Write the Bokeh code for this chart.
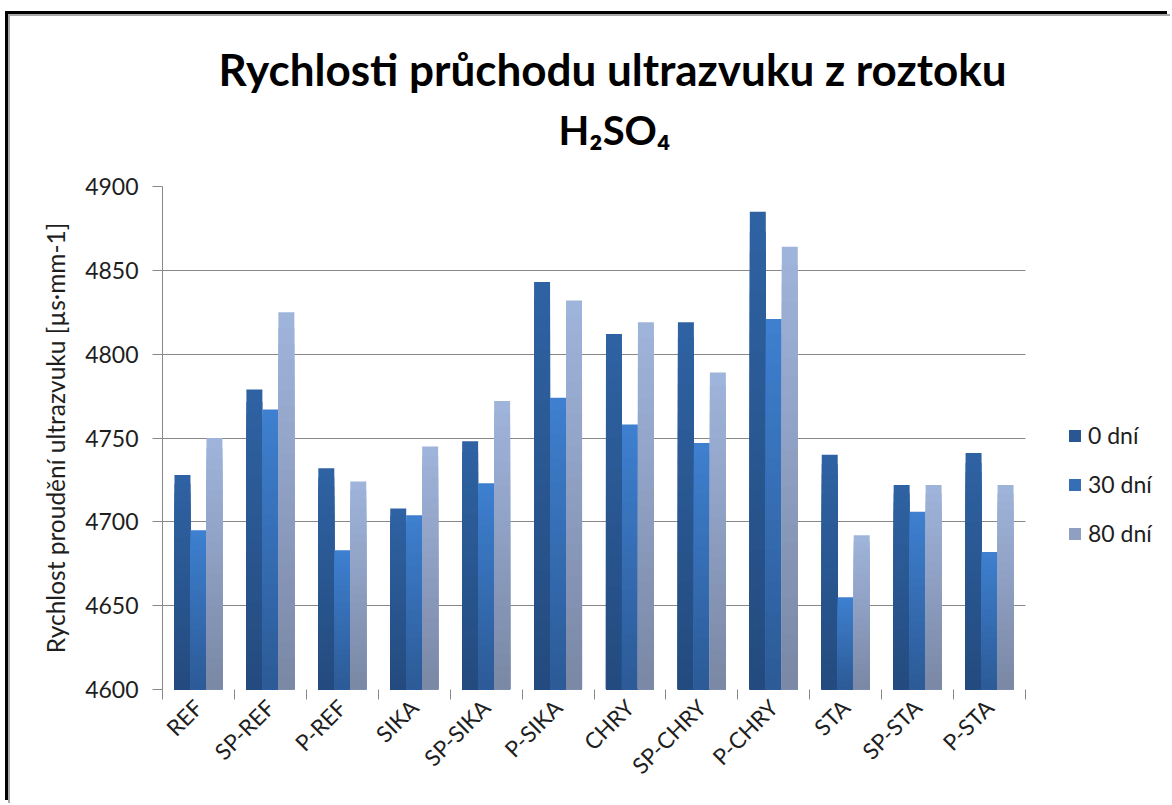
import numpy as np
from bokeh.plotting import figure
from bokeh.models import (ColumnDataSource, Range1d, FixedTicker, Legend,
                          LegendItem, Title)
from bokeh.embed import file_html
from bokeh.resources import INLINE

categories = ["REF", "SP-REF", "P-REF", "SIKA", "SP-SIKA", "P-SIKA",
              "CHRY", "SP-CHRY", "P-CHRY", "STA", "SP-STA", "P-STA"]
series_names = ["0 dní", "30 dní", "80 dní"]
v0 = [4728, 4779, 4732, 4708, 4748, 4843, 4812, 4819, 4885, 4740, 4722, 4741]
v30 = [4695, 4767, 4683, 4704, 4723, 4774, 4758, 4747, 4821, 4655, 4706, 4682]
v80 = [4750, 4825, 4724, 4745, 4772, 4832, 4819, 4789, 4864, 4692, 4722, 4722]
y_ticks = [4600, 4650, 4700, 4750, 4800, 4850, 4900]
title_line1 = "Rychlosti průchodu ultrazvuku z roztoku"
title_line2 = "H₂SO₄"
y_label = "Rychlost proudění ultrazvuku [µs·mm-1]"

top_colors = [(47, 99, 163), (62, 128, 208), (160, 181, 220)]
bot_colors = [(35, 74, 126), (44, 90, 150), (122, 135, 165)]
FONT = "Lato"
TXT = "#1e1e1e"
GRID = "#888888"

n_cat = len(categories)
y0, y1 = y_ticks[0], y_ticks[-1]
# plot area runs to the right edge so that the legend (an annotation) is not
# clipped; the grid and the category axis are bounded to the categories
p = figure(width=1162, height=789, output_backend="svg", toolbar_location=None,
           x_range=Range1d(0, n_cat * 1010 / 863), y_range=Range1d(y0, y1),
           min_border_left=152, min_border_right=0, min_border_top=170,
           min_border_bottom=116)
p.styles = {"margin-left": "8px", "margin-top": "14px",
            "border-left": "2px solid #a8a8a8", "border-top": "2px solid #a8a8a8",
            "box-shadow": "-3px -3px 0px 0px #000000"}
p.outline_line_color = None
p.background_fill_color = "white"
p.border_fill_color = "white"

# titles
p.title.text = title_line1
p.title.align = "left"
p.title.offset = 56
p.title.standoff = -48
p.title.text_font = FONT
p.title.text_font_style = "bold"
p.title.text_font_size = "44px"
p.title.text_color = "black"
p.add_layout(Title(text=title_line2, align="left", offset=396, text_font=FONT,
                   text_font_style="bold", text_font_size="40px",
                   text_color="black", standoff=66), "above")

# x axis: boundary ticks (minor), labels at centres (major)
centres = [i + 0.5 for i in range(n_cat)]
xax = p.xaxis[0]
xax.ticker = FixedTicker(ticks=centres, minor_ticks=list(range(n_cat + 1)))
xax.major_label_overrides = {c: cat for c, cat in zip(centres, categories)}
xax.bounds = (0, n_cat)
xax.major_tick_out = 0
xax.major_tick_in = 0
xax.minor_tick_out = 10
xax.minor_tick_in = 0
xax.minor_tick_line_color = GRID
xax.axis_line_color = None
xax.major_label_orientation = np.pi / 4
xax.major_label_text_font = FONT
xax.major_label_text_font_size = "22.5px"
xax.major_label_text_color = TXT
xax.major_label_standoff = 4
p.xgrid.visible = False

yax = p.yaxis[0]
yax.ticker = FixedTicker(ticks=y_ticks, minor_ticks=[])
yax.major_tick_out = 10
yax.major_tick_in = 0
yax.major_tick_line_color = GRID
yax.axis_line_color = GRID
yax.major_label_text_font = FONT
yax.major_label_text_font_size = "23px"
yax.major_label_text_color = TXT
yax.major_label_standoff = 14
yax.axis_label = y_label
yax.axis_label_text_font = FONT
yax.axis_label_text_font_style = "normal"
yax.axis_label_text_font_size = "24.5px"
yax.axis_label_text_color = TXT
yax.axis_label_standoff = 12
p.ygrid.ticker = FixedTicker(ticks=y_ticks)
p.ygrid.bounds = (y0, y1)
p.ygrid.cross_bounds = (0, n_cat)
p.ygrid.grid_line_color = GRID

# gradient bars: each value drawn as nested slices (largest first)
N = 24
bar_w = 2.0 / 9.0
offsets = [-bar_w, 0.0, bar_w]
renderers = []
for s, vals in enumerate([v0, v30, v80]):
    xs, tops, cols = [], [], []
    for k in range(N - 1, -1, -1):
        t = (k + 0.5) / N
        c = tuple(int(round(bot_colors[s][j] + (top_colors[s][j] - bot_colors[s][j]) * t))
                  for j in range(3))
        for i, v in enumerate(vals):
            xs.append(i + 0.5 + offsets[s])
            tops.append(y0 + (v - y0) * (k + 1) / N)
            cols.append("#%02x%02x%02x" % c)
    src = ColumnDataSource(dict(x=xs, top=tops, color=cols))
    renderers.append(p.vbar(x="x", bottom=y0, top="top", width=bar_w,
                            fill_color="color", line_color=None, source=src))

# legend (uses a mid-height slice colour of each series)
mid_index = (N - 1 - N // 2) * n_cat
items = [LegendItem(label=name, renderers=[renderers[s]], index=mid_index)
         for s, name in enumerate(series_names)]
legend = Legend(items=items, location=(905, 142), orientation="vertical",
                glyph_width=15, glyph_height=15, label_standoff=6,
                label_text_font=FONT, label_text_font_size="23px",
                label_text_color=TXT, label_height=24, spacing=21,
                padding=0, margin=0, border_line_color=None,
                background_fill_alpha=0)
p.add_layout(legend, "center")

open("out.html", "w").write(file_html(p, INLINE))
